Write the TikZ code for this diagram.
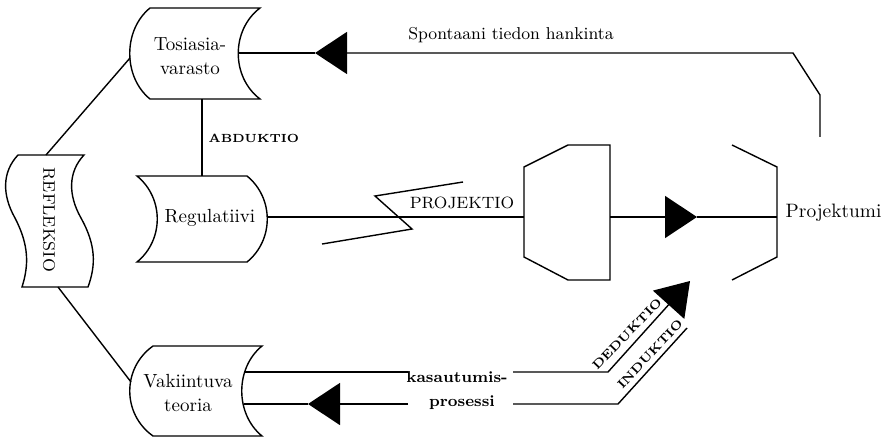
\documentclass[tikz,border=0pt]{standalone}
\usetikzlibrary{arrows.meta}
\begin{document}
\begin{tikzpicture}[x=0.5pt,y=-0.5pt,line width=0.7pt]
  \tikzset{
    tri/.style={-{Triangle[length=16pt,width=21pt]}},
    lbl/.style={font=\fontsize{9.5}{12}\selectfont,align=center,inner sep=0pt},
    caps/.style={font=\fontsize{#1}{#1}\selectfont,inner sep=0pt},
    bcaps/.style={font=\fontsize{#1}{#1}\selectfont\bfseries,inner sep=0pt},
  }
  \useasboundingbox (0,0) rectangle (886,438);
  % varastot
  \draw (150,8) -- (260,8) .. controls (231,30) and (231,77) .. (260,99) -- (150,99) .. controls (123,77) and (123,30) .. (150,8) -- cycle;
  \draw (137,176) -- (247,176) .. controls (274,198) and (274,240) .. (247,262) -- (137,262) .. controls (164,240) and (164,198) .. (137,176) -- cycle;
  \draw (153,346) -- (262,346) .. controls (235,368) and (235,414) .. (262,436) -- (153,436) .. controls (122,414) and (122,368) .. (153,346) -- cycle;
  \draw (18,155) .. controls (2,172) and (2,195) .. (15,218) .. controls (29,245) and (29,265) .. (22,287) -- (88,287)
        .. controls (96,265) and (96,245) .. (81,218) .. controls (68,195) and (68,172) .. (84,155) -- cycle;
  \node[lbl] (tos) at (190,56) {Tosiasia-\\varasto};
  \node[lbl] (reg) at (210,218) {Regulatiivi};
  \node[lbl] (vak) at (188,393) {Vakiintuva\\teoria};
  \node[caps=8.4,rotate=-90] (ref) at (49,220) {REFLEKSIO};
  % projektio
  \draw (524,167) -- (568,145) -- (610,145) -- (610,280) -- (568,280) -- (524,257) -- cycle;
  \draw (732,145) -- (777,167) -- (777,257) -- (732,280);
  \node[caps=9.7,anchor=west] (pm) at (785,213) {Projektumi};
  \node[caps=8.2] (pj) at (462,203) {PROJEKTIO};
  \node[bcaps=5.9,anchor=west] (abd) at (208,138) {ABDUKTIO};
  \node[caps=8.6] (spont) at (511,35) {Spontaani tiedon hankinta};
  \node[bcaps=7.9] (kas1) at (457,377) {kasautumis-};
  \node[bcaps=7.9] (kas2) at (462,403) {prosessi};
  \node[bcaps=6.2,rotate=46] (ded) at (627,334) {DEDUKTIO};
  \node[bcaps=6.2,rotate=47] (ind) at (650,354) {INDUKTIO};
  % liitokset
  \coordinate (tos-w) at (130,58);
  \coordinate (tos-e) at (238,53);
  \coordinate (tos-s) at (202,99);
  \coordinate (reg-n) at (202,176);
  \coordinate (reg-e) at (267,217);
  \coordinate (vak-w) at (131,382);
  \coordinate (vak-e1) at (244,372);
  \coordinate (vak-e2) at (244,404);
  \coordinate (ref-n) at (46,155);
  \coordinate (ref-s) at (58,287);
  \coordinate (pj-w) at (524,217);
  \coordinate (pj-e) at (610,217);
  \coordinate (pm-w) at (777,217);
  \coordinate (pm-n) at (820,137);
  \draw (ref-n) -- (tos-w);
  \draw (ref-s) -- (vak-w);
  \draw (tos-s) -- (reg-n);
  \draw (reg-e) -- (pj-w);
  \draw (322,244) -- (412,229) -- (375,196) -- (463,182);
  \draw[tri] (pj-e) -- (697,217);
  \draw (697,217) -- (pm-w);
  \draw[tri] (pm-n) -- (820,95) -- (793,53) -- (315,53);
  \draw (315,53) -- (tos-e);
  \draw (vak-e1) -- (408,372);
  \draw[tri] (408,404) -- (308,404);
  \draw (308,404) -- (vak-e2);
  \draw[tri] (513,372) -- (608,372) -- (690,281);
  \draw (513,404) -- (618,404) -- (687,328);
\end{tikzpicture}
\end{document}
